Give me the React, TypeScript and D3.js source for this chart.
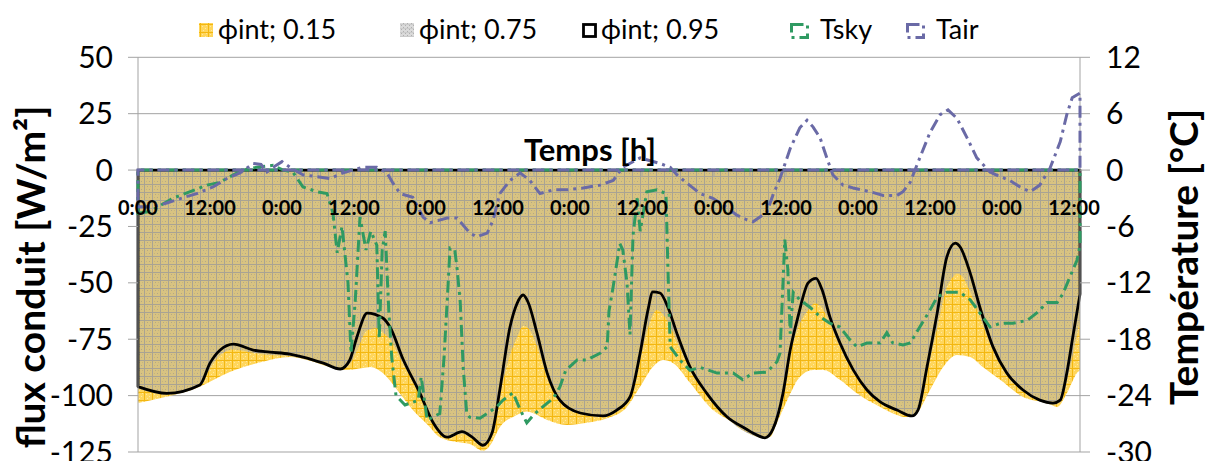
import React from "react";
import * as d3 from "d3";

// Conducted heat flux through the wall [W/m²] for three internal humidity levels,
// sampled as [hour, value] pairs along the 0–157 h time line.
const phi015: [number, number][] = [
  [0, -103.3], [4, -101], [9.8, -96.6], [15.3, -89.5], [20.8, -85], [25.3, -82.9],
  [28.2, -84.2], [32, -87.3], [34.8, -88.6], [37.5, -87.8], [38.7, -87.3], [40.8, -90],
  [43.2, -97.5], [45.8, -106.4], [48.3, -113], [50.3, -118.5], [52.8, -120.5],
  [55.3, -121.5], [57.5, -124.5], [58.7, -122], [60.3, -114], [62.8, -109], [64.8, -107],
  [65.8, -107.7], [68.2, -110.8], [71.5, -113], [74.8, -112], [78.2, -110], [81.5, -105],
  [83.7, -96], [85.8, -87.3], [87.5, -84.2], [89.2, -85.6], [92, -94.3], [95.3, -105],
  [99.2, -112], [102, -116.6], [105.3, -118.4], [106.5, -112], [108.2, -102],
  [110.3, -91.8], [112.5, -88.6], [114.2, -88.6], [117, -93], [119.8, -99], [123.7, -105],
  [128.2, -109.5], [129.8, -107.7], [132, -97.5], [134.2, -87.3], [136.5, -82],
  [138.7, -82.9], [140.8, -87.3], [143.7, -93], [147.5, -100.6], [151.5, -103.3],
  [153.2, -105], [154.8, -99], [156.5, -90], [157, -88.6],
];

const phi075: [number, number][] = [
  [0, -97], [4.8, -99.5], [10.3, -96], [12, -88], [13.7, -82], [15.9, -79.5], [19.2, -81],
  [22, -82], [25.3, -82.5], [27.5, -83.5], [30.9, -86], [33.7, -88.5], [35.3, -86],
  [36.5, -80], [38.2, -71], [40, -70], [40.8, -72], [42, -75], [44.2, -86], [47, -99.5],
  [49.2, -112], [51.5, -118.5], [54, -117], [55.7, -119], [57.5, -122.5], [59, -117],
  [60.3, -100], [62, -82], [63.2, -74], [64.2, -69], [65, -70], [66.5, -78], [68.2, -92],
  [70.3, -102.5], [73.7, -108], [77.5, -109.5], [79.8, -107], [82, -101], [83.7, -84],
  [85, -70], [86.5, -62], [87.5, -64], [88.3, -67], [89.8, -76], [92, -88], [94.8, -99.5],
  [98.2, -110], [101.5, -116.5], [104.5, -119], [105.8, -116], [107.5, -101],
  [108.7, -82], [110, -70], [111.7, -62], [112.8, -59], [114, -61], [115.3, -68],
  [117, -78.5], [119.2, -89.5], [121.5, -98], [123.7, -103], [126.5, -107], [129, -109.5],
  [130, -107.5], [131.5, -90], [133.2, -70], [134.8, -52], [135.8, -47.5], [136.5, -46],
  [137.3, -47], [138.7, -54], [140.3, -65], [142.5, -80], [144.8, -91], [147.5, -98],
  [150.3, -102.5], [152.5, -104], [153.7, -103], [154.8, -94], [155.8, -82], [157, -66],
];

const phi095: [number, number][] = [
  [0, -96], [4.8, -99], [10.3, -95.3], [12, -85.6], [13.7, -79.8], [15.9, -77.2],
  [19.2, -79.8], [22, -80.7], [25.3, -81.6], [27.5, -82.9], [30.9, -85.6], [33.7, -88.2],
  [35.3, -84.2], [36.5, -73.9], [38.2, -63.4], [40.8, -65.6], [42, -69.6], [44.2, -84],
  [47, -99], [49.2, -112], [51.5, -118.4], [54, -116], [55.7, -118.4], [57.5, -122],
  [59, -116.6], [60.3, -97.5], [62, -69.6], [63.2, -59], [64.2, -55.4], [65, -58.5],
  [66.5, -72.3], [68.2, -90], [70.3, -102], [73.7, -107.7], [77.5, -109], [79.8, -106.4],
  [82, -100.6], [83.7, -81], [85, -62], [85.8, -54], [87, -54.5], [88.3, -60.7],
  [89.8, -72.3], [92, -87.3], [94.8, -99], [98.2, -109.5], [101.5, -115], [102.5, -116.6],
  [104.5, -118.7], [105.8, -115], [107.5, -99], [108.7, -79.8], [110, -65], [111.7, -50],
  [113, -48], [114, -53], [115.3, -65], [117, -76.7], [119.2, -88.6], [121.5, -97.5],
  [123.7, -102.8], [126.5, -106.4], [129, -109], [130, -106.4], [131.5, -87.3],
  [133.2, -63.4], [134.8, -38.6], [136.2, -32.4], [137, -34], [138.7, -45.7],
  [140.3, -60.7], [142.5, -78.4], [144.8, -90], [147.5, -97.5], [150.3, -102],
  [152.5, -103.3], [153.7, -102], [154.8, -90], [155.8, -74], [157, -55],
];

// Sky and outdoor air temperatures [°C], secondary axis.
const tsky: [number, number][] = [
  [0, -4.6], [2, -4.4], [5.8, -3], [8.7, -2.3], [11.5, -1.6], [13.7, -1.3], [15.3, -0.7],
  [17.5, 0], [19.8, 0.3], [22.5, 0.5], [24.2, 0], [25.8, -0.2], [27.5, -1.8], [29.8, -2.3],
  [31.5, -2.5], [32.5, -4.6], [33.2, -8.8], [34, -6], [35, -12], [35.5, -19.5], [36.2, -14],
  [37, -5], [38, -8.5], [38.8, -6.5], [39.8, -8], [40.2, -18], [40.7, -8.5], [41.2, -6.5],
  [41.8, -15], [42.3, -20], [43, -24], [44.5, -25], [46.7, -24.5], [47.2, -22],
  [48.2, -26.6], [50.3, -25.9], [51, -20], [51.7, -12], [52, -8.3], [52.8, -8.5],
  [53.2, -10.6], [53.7, -14], [54.2, -21], [54.8, -26], [55.3, -26.3], [57, -26.4],
  [58.2, -25.9], [59.8, -25.2], [60.8, -24.5], [62.5, -23.7], [63.7, -25.5], [64.8, -26.9],
  [66, -26], [68.2, -24.8], [69.2, -24.3], [70.3, -23.1], [71.3, -21.3], [73.2, -20.2],
  [74.8, -20.2], [77, -19.5], [78.2, -18.8], [78.5, -15], [79.2, -12.4], [80.3, -7.8],
  [80.8, -8.5], [81.5, -12], [82, -17.5], [82.5, -7], [83.2, -3], [83.7, -6.5],
  [84.8, -2.3], [86.5, -2.1], [88, -2.5], [88.3, -10], [88.7, -18.8], [90.3, -20.2],
  [92, -21.3], [93.7, -21], [96.5, -21.6], [99.2, -21.6], [100.8, -22.3], [102.5, -21.6],
  [104.8, -21.5], [106.5, -20.4], [107, -19.5], [107.5, -12], [107.8, -7.4],
  [108.3, -10.5], [108.7, -17.4], [109.2, -13], [110.3, -13.8], [112, -14.6],
  [113.7, -15.6], [115.3, -16.3], [117, -16.7], [118.7, -18.1], [119.8, -18.8],
  [121.5, -18.4], [123.7, -18.4], [124.8, -17.3], [125.8, -18.4], [127.5, -18.6],
  [128.7, -18.4], [130.3, -16.7], [132, -14.9], [133.2, -13.5], [134.8, -13], [137, -13],
  [138.7, -13.8], [140.3, -15.2], [142, -16.7], [143.7, -16.3], [145.8, -16.3],
  [148.2, -16], [149.8, -15.2], [151.5, -14.1], [153.2, -14.1], [154.2, -13.1],
  [155.3, -11.4], [156.5, -9.6], [157, -8],
];

const tair: [number, number][] = [
  [0, -3.9], [2.5, -3.9], [4.8, -3.5], [8.2, -2.8], [9.8, -2.5], [12.5, -1.8],
  [14.8, -0.9], [17, -0.3], [19.2, 0.7], [20.5, 0.6], [21.5, -0.2], [23, 0.5], [24, 0.9],
  [25.3, 0.3], [27.5, -0.5], [29.8, -0.7], [32, -0.9], [34.2, -0.3], [37.5, 0.3],
  [39.8, 0.3], [41.5, -0.3], [42.5, -1.4], [43.7, -2.5], [45.8, -2.9], [47.5, -5],
  [48.7, -5.6], [51.5, -5.1], [53.2, -5.1], [55.3, -6.7], [56.5, -7.1], [58.2, -6.7],
  [59.2, -5.3], [60.3, -2.5], [62, -1.1], [63.7, -0.3], [65.3, -1.1], [67, -2.5],
  [69.2, -2.1], [71.5, -2.1], [74.2, -1.9], [77, -1.6], [79.2, -1.1], [80.8, 0.3],
  [83.7, 1.3], [87, 0.7], [88.7, 0.3], [89.8, -0.5], [91.5, -1.4], [93.7, -2.5],
  [95.8, -3], [98.2, -4], [99.8, -4.8], [101.5, -5.3], [102.5, -5.5], [104.8, -4.5],
  [105.8, -2.7], [107, -0.9], [108.7, 2.3], [110.3, 4.5], [111.5, 5.3], [112.5, 4.6],
  [113.7, 3.4], [114.8, 1.3], [115.8, -0.5], [117.5, -1.6], [119.2, -1.9], [122, -2.3],
  [124.2, -2.7], [126.5, -2.7], [127.5, -2.3], [128.7, -1.3], [130.3, 1.3], [132, 4.0],
  [133.7, 5.9], [135, 6.4], [136.5, 5.5], [138.2, 3.4], [139.8, 1.3], [142, -0.2],
  [143.7, -0.7], [145.3, -1.1], [147, -1.8], [148.7, -2.3], [150.3, -1.6], [152, 0.2],
  [153.7, 3], [154.8, 5.9], [155.7, 7.7], [157, 8.2],
];

const fluxTicks = [50, 25, 0, -25, -50, -75, -100, -125];
const tempTicks = [12, 6, 0, -6, -12, -18, -24, -30];
const timeLabelHours = d3.range(0, 157, 12);
const timeTickHours = d3.range(0, 158, 6);
const timeLabel = (h: number) => (h % 24 === 0 ? "0:00" : "12:00");

const legendItems = [
  { key: "p15", label: "ϕint; 0.15" },
  { key: "p75", label: "ϕint; 0.75" },
  { key: "p95", label: "ϕint; 0.95" },
  { key: "tsky", label: "Tsky" },
  { key: "tair", label: "Tair" },
];

const FONT = "Lato, 'Open Sans', sans-serif";
const GREEN = "#2f9a62";
const PURPLE = "#6a6aa6";
const GRID = "#a3a3a3";
const DASH = "12 5 3 5";

export default function App() {
  const W = 1208;
  const H = 461;
  const left = 138;
  const right = 1080;
  const top = 57.3;
  const bottom = 452;

  const x = d3.scaleLinear().domain([0, 157]).range([left, right]);
  const y = d3.scaleLinear().domain([-125, 50]).range([bottom, top]);
  const yT = d3.scaleLinear().domain([-30, 12]).range([bottom, top]);

  const fluxArea = d3
    .area<[number, number]>()
    .x((d) => x(d[0]))
    .y0(y(0))
    .y1((d) => y(d[1]))
    .curve(d3.curveMonotoneX);

  const tempArea = d3
    .area<[number, number]>()
    .x((d) => x(d[0]))
    .y0(yT(0))
    .y1((d) => yT(d[1]))
    .curve(d3.curveLinear);

  const legendX = [199, 400, 582, 790, 906];
  const legendTextDx = [19, 19, 19, 30, 30];

  return (
    <svg
      width={W}
      height={H}
      style={{ position: "absolute", left: 0, top: 0, background: "#fff" }}
      fontFamily={FONT}
    >
      <defs>
        <pattern id="patYellow" width={8} height={8} patternUnits="userSpaceOnUse">
          <rect width={8} height={8} fill="#ffd65c" />
          <rect x={2} y={2} width={1} height={1} fill="#ffe8a0" />
          <rect x={5} y={4} width={1} height={1} fill="#ffe8a0" />
          <rect x={3} y={6} width={1} height={1} fill="#ffe8a0" />
          <rect x={6} y={1} width={1} height={1} fill="#ffe8a0" />
          <rect x={0} y={0} width={8} height={1} fill="#f3b711" />
          <rect x={0} y={0} width={1} height={8} fill="#f3b711" />
        </pattern>
        <pattern id="patTan" width={8} height={8} patternUnits="userSpaceOnUse">
          <rect width={8} height={8} fill="#d8c381" />
          <rect x={3} y={2} width={1} height={1} fill="#b5a886" />
          <rect x={5} y={5} width={1} height={1} fill="#b5a886" />
          <rect x={2} y={5} width={1} height={1} fill="#c6b47e" />
          <rect x={6} y={2} width={1} height={1} fill="#c6b47e" />
          <rect x={0} y={0} width={8} height={1} fill="#a9a393" />
          <rect x={0} y={0} width={1} height={8} fill="#a9a393" />
        </pattern>
        <pattern id="patGrey" width={4} height={4} patternUnits="userSpaceOnUse">
          <rect width={4} height={4} fill="#dadada" />
          <rect x={1} y={1} width={1} height={1} fill="#b0b0b0" />
          <rect x={3} y={3} width={1} height={1} fill="#b0b0b0" />
          <rect x={0} y={0} width={4} height={0.6} fill="#c2c2c2" />
        </pattern>
        <clipPath id="plotClip">
          <rect x={left - 2} y={0} width={right - left + 4} height={H} />
        </clipPath>
      </defs>

      {/* horizontal gridlines of the flux axis */}
      {fluxTicks.map((t) => (
        <line key={t} x1={left} x2={right} y1={y(t)} y2={y(t)} stroke={GRID} strokeWidth={1} />
      ))}

      {/* flux areas */}
      <path d={fluxArea(phi015) ?? ""} fill="url(#patYellow)" />
      <path d={fluxArea(phi075) ?? ""} fill="url(#patTan)" />

      {/* category axis along zero, ticks every 6 h */}
      <line x1={left} x2={right} y1={y(0)} y2={y(0)} stroke={GRID} />
      {timeTickHours.map((h) => (
        <line key={h} x1={x(h)} x2={x(h)} y1={y(0)} y2={y(0) + 7} stroke="#a8a8a8" strokeWidth={1} />
      ))}

      <path d={fluxArea(phi095) ?? ""} fill="none" stroke="#000" strokeWidth={2.8} strokeLinejoin="round" />

      {/* value axes */}
      <line x1={left} x2={left} y1={top} y2={bottom} stroke={GRID} />
      <line x1={right} x2={right} y1={top} y2={bottom} stroke={GRID} />
      {fluxTicks.map((t) => (
        <line key={"lt" + t} x1={left - 10} x2={left} y1={y(t)} y2={y(t)} stroke={GRID} />
      ))}
      {tempTicks.map((t) => (
        <line key={"rt" + t} x1={right} x2={right + 10} y1={yT(t)} y2={yT(t)} stroke={GRID} />
      ))}

      {/* temperature outlines on the secondary axis */}
      <g clipPath="url(#plotClip)">
        <path d={tempArea(tsky) ?? ""} fill="none" stroke={GREEN} strokeWidth={3} strokeDasharray={DASH} />
        <path d={tempArea(tair) ?? ""} fill="none" stroke={PURPLE} strokeWidth={3} strokeDasharray={DASH} />
      </g>

      {/* time labels */}
      {timeLabelHours.map((h) => (
        <text key={"xl" + h} x={x(h)} y={215} textAnchor="middle" fontSize={20} fontWeight={700} fill="#000">
          {timeLabel(h)}
        </text>
      ))}
      <text x={590} y={161} textAnchor="middle" fontSize={31} fontWeight={700} fill="#000">
        Temps [h]
      </text>

      {/* left axis labels */}
      {fluxTicks.map((t) => (
        <text key={"ll" + t} x={113} y={y(t) + 10.5} textAnchor="end" fontSize={30} fill="#000">
          {t}
        </text>
      ))}
      {/* right axis labels */}
      {tempTicks.map((t) => (
        <text key={"rl" + t} x={1106} y={yT(t) + 10.5} textAnchor="start" fontSize={30} fill="#000">
          {t}
        </text>
      ))}

      {/* axis titles */}
      <text
        transform={`translate(45, 277) rotate(-90)`}
        textAnchor="middle"
        fontSize={39}
        fontWeight={700}
        fill="#000"
      >
        flux conduit [W/m²]
      </text>
      <text
        transform={`translate(1198, 257) rotate(-90)`}
        textAnchor="middle"
        fontSize={39}
        fontWeight={700}
        fill="#000"
      >
        Température [°C]
      </text>

      {/* legend */}
      {legendItems.map((item, i) => {
        const lx = legendX[i];
        const sy = 23;
        let sym: React.ReactNode = null;
        if (item.key === "p15") sym = <rect x={lx} y={sy} width={14} height={14} fill="url(#patYellow)" />;
        if (item.key === "p75") sym = <rect x={lx} y={sy} width={14} height={14} fill="url(#patGrey)" />;
        if (item.key === "p95")
          sym = <rect x={lx + 1.5} y={sy + 1.5} width={12} height={12} fill="none" stroke="#000" strokeWidth={2.8} />;
        if (item.key === "tsky")
          sym = (
            <rect x={lx + 1.5} y={sy + 1.5} width={16} height={13} fill="none" stroke={GREEN} strokeWidth={3} strokeDasharray={DASH} />
          );
        if (item.key === "tair")
          sym = (
            <rect x={lx + 1.5} y={sy + 1.5} width={16} height={13} fill="none" stroke={PURPLE} strokeWidth={3} strokeDasharray={DASH} />
          );
        return (
          <g key={item.key}>
            {sym}
            <text x={lx + legendTextDx[i]} y={39} fontSize={27} fill="#000">
              {item.label}
            </text>
          </g>
        );
      })}
    </svg>
  );
}
